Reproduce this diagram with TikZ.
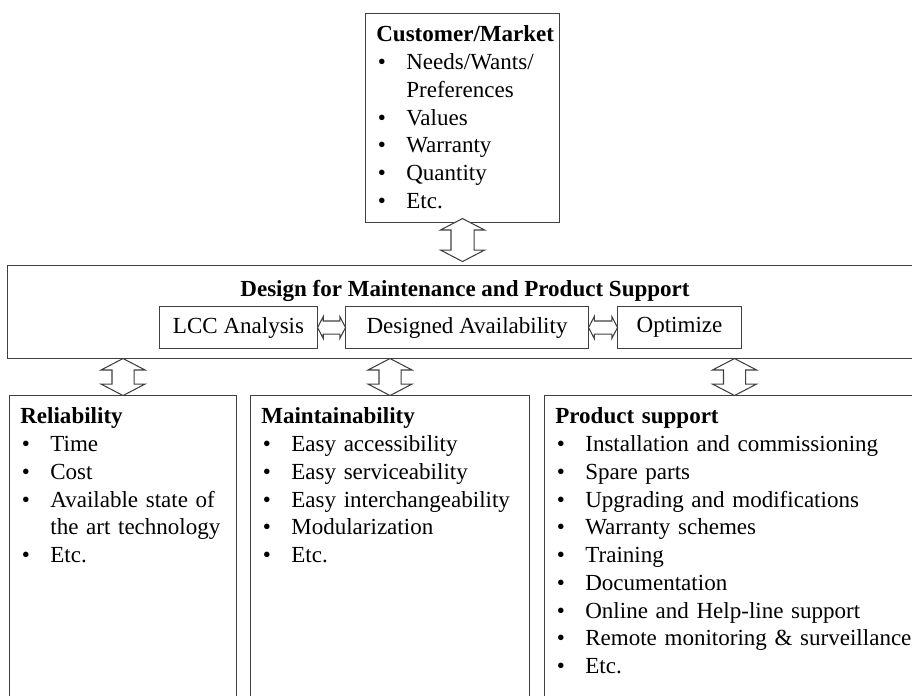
\documentclass[tikz,border=0pt]{standalone}
\usepackage{fontspec}
\setmainfont{Liberation Serif}
\usetikzlibrary{shapes.arrows,calc}

\newcommand\mainsize{\fontsize{13.1pt}{15.8pt}\selectfont}
\newcommand\bitem[1]{\par\hangindent=6mm\hangafter=1\noindent\makebox[6mm][l]{\hspace{0.3mm}\textbullet}#1}

\tikzset{
  box/.style={draw=black!75, line width=0.6pt, anchor=north west, inner sep=0pt, font=\mainsize},
  boxtext/.style={anchor=north west, inner xsep=2.2mm, inner ysep=1.8mm, text width=75mm, align=left, font=\mainsize},
  dblarrow/.style={double arrow, draw=black!75, line width=0.6pt, fill=white, inner xsep=0pt, double arrow tip angle=125},
}

\begin{document}
\begin{tikzpicture}[x=0.2mm, y=-0.2mm]
\clip (0,0) rectangle (912,695);

% the boxes
\node[box, minimum width=38.8mm, minimum height=41.8mm] (cust) at (365,13) {};
\node[box, minimum width=184.6mm, minimum height=18.6mm] (dfm) at (7,265) {};
\node[box, minimum width=31.6mm, minimum height=8.4mm] (lcc) at (159,306) {LCC Analysis};
\node[box, minimum width=48.6mm, minimum height=8.4mm] (avail) at (345,306) {Designed Availability};
\node[box, minimum width=24.8mm, minimum height=8.4mm] (optim) at (617,306) {Optimize};
\node[box, minimum width=45.4mm, minimum height=64mm] (rel) at (9,395) {};
\node[box, minimum width=55.8mm, minimum height=64mm] (maint) at (250,395) {};
\node[box, minimum width=76mm, minimum height=64mm] (prod) at (544,395) {};

% the texts
\node[boxtext] (custtext) at (cust.north west) {\strut\textbf{Customer/Market}
  \bitem{Needs/Wants/\newline Preferences}
  \bitem{Values}
  \bitem{Warranty}
  \bitem{Quantity}
  \bitem{Etc.}};
\node[anchor=base, font=\mainsize\bfseries] (dfmtitle) at (465,296) {Design for Maintenance and Product Support};
\node[boxtext] (reltext) at (rel.north west) {\strut\textbf{Reliability}
  \bitem{Time}
  \bitem{Cost}
  \bitem{Available state of\newline the art technology}
  \bitem{Etc.}};
\node[boxtext] (mainttext) at (maint.north west) {\strut\textbf{Maintainability}
  \bitem{Easy accessibility}
  \bitem{Easy serviceability}
  \bitem{Easy interchangeability}
  \bitem{Modularization}
  \bitem{Etc.}};
\node[boxtext] (prodtext) at (prod.north west) {\strut\textbf{Product support}
  \bitem{Installation and commissioning}
  \bitem{Spare parts}
  \bitem{Upgrading and modifications}
  \bitem{Warranty schemes}
  \bitem{Training}
  \bitem{Documentation}
  \bitem{Online and Help-line support}
  \bitem{Remote monitoring \& surveillance}
  \bitem{Etc.}};

% the double arrows
\node[dblarrow, rotate=90, minimum height=8.6mm, inner ysep=2.2mm, double arrow head extend=2.1mm, xshift=0.8mm] (a0)
  at ($(cust.south)!0.5!(cust.south |- dfm.north)$) {};
\node[dblarrow, rotate=90, minimum height=7.4mm, inner ysep=2.1mm, double arrow head extend=2.2mm] (a1)
  at ($(rel.north)!0.5!(rel.north |- dfm.south)$) {};
\node[dblarrow, rotate=90, minimum height=7.4mm, inner ysep=2.1mm, double arrow head extend=2.2mm] (a2)
  at ($(maint.north)!0.5!(maint.north |- dfm.south)$) {};
\node[dblarrow, rotate=90, minimum height=7.4mm, inner ysep=2.1mm, double arrow head extend=2.2mm] (a3)
  at ($(prod.north)!0.5!(prod.north |- dfm.south)$) {};
\node[dblarrow, minimum height=5.6mm, inner ysep=1.2mm, double arrow head extend=0.9mm] (h1)
  at ($(lcc.east)!0.5!(avail.west)$) {};
\node[dblarrow, minimum height=5.8mm, inner ysep=1.2mm, double arrow head extend=0.9mm] (h2)
  at ($(avail.east)!0.5!(optim.west)$) {};
\end{tikzpicture}
\end{document}
